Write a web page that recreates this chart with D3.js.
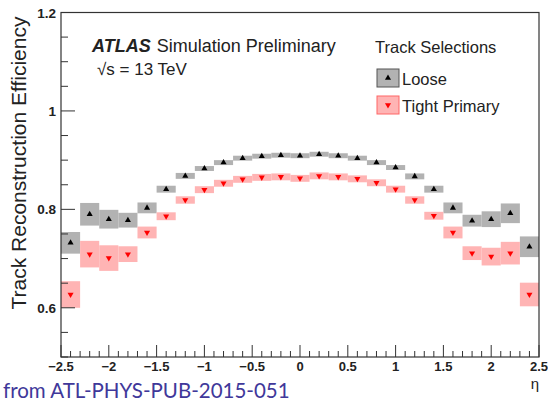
<!DOCTYPE html>
<html>
<head>
<meta charset="utf-8">
<script src="https://cdn.jsdelivr.net/npm/d3@7"></script>
<style>
  body { margin: 0; background: #fff; }
  svg { font-family: "Liberation Sans", Arial, sans-serif; }
</style>
</head>
<body>
<svg id="chart" width="548" height="401"></svg>
<script>
// bin centres in eta (bin width 0.2)
const etaBins = [-2.4, -2.2, -2.0, -1.8, -1.6, -1.4, -1.2, -1.0, -0.8, -0.6, -0.4, -0.2, 0.0,
                 0.2, 0.4, 0.6, 0.8, 1.0, 1.2, 1.4, 1.6, 1.8, 2.0, 2.2, 2.4];
const looseEff = [0.732, 0.790, 0.780, 0.778, 0.803, 0.841, 0.868, 0.883, 0.895, 0.904, 0.908, 0.910, 0.909,
                  0.912, 0.909, 0.904, 0.895, 0.885, 0.867, 0.841, 0.803, 0.777, 0.780, 0.792, 0.724];
const looseErr = [0.022, 0.023, 0.019, 0.015, 0.011, 0.007, 0.006, 0.005, 0.005, 0.005, 0.005, 0.005, 0.005,
                  0.005, 0.005, 0.005, 0.005, 0.005, 0.006, 0.007, 0.011, 0.012, 0.016, 0.020, 0.021];
const tightEff = [0.627, 0.709, 0.701, 0.709, 0.753, 0.786, 0.819, 0.840, 0.853, 0.861, 0.865, 0.866, 0.863,
                  0.868, 0.866, 0.862, 0.854, 0.841, 0.819, 0.787, 0.753, 0.711, 0.704, 0.711, 0.627];
const tightErr = [0.027, 0.027, 0.026, 0.016, 0.012, 0.008, 0.0075, 0.007, 0.007, 0.007, 0.007, 0.007, 0.007,
                  0.007, 0.007, 0.007, 0.007, 0.007, 0.0075, 0.008, 0.012, 0.014, 0.018, 0.023, 0.024];
const binWidth = 0.2;
const xTicks = [-2.5, -2, -1.5, -1, -0.5, 0, 0.5, 1, 1.5, 2, 2.5];
const yTicks = [0.6, 0.8, 1, 1.2];

const svg = d3.select("#chart");
const margin = {top: 12.5, right: 9, bottom: 44, left: 61};
const W = 548, H = 401;
const x = d3.scaleLinear().domain([-2.5, 2.5]).range([margin.left, W - margin.right]);
const y = d3.scaleLinear().domain([0.5, 1.2]).range([H - margin.bottom, margin.top]);

const series = [
  {name: "Loose", eff: looseEff, err: looseErr, fill: "#b2b2b2", mark: "#000", sym: d3.symbolTriangle, rot: 0, legStroke: "#555"},
  {name: "Tight Primary", eff: tightEff, err: tightErr, fill: "#ffb4b4", mark: "#ff0000", sym: d3.symbolTriangle, rot: 180, legStroke: "#ff6666"}
];

// error boxes + markers
series.forEach(s => {
  const g = svg.append("g");
  g.selectAll("rect")
    .data(etaBins.map((e, i) => [e, s.eff[i], s.err[i]]))
    .enter().append("rect")
    .attr("x", d => x(d[0] - binWidth / 2))
    .attr("width", d => x(d[0] + binWidth / 2) - x(d[0] - binWidth / 2))
    .attr("y", d => y(d[1] + d[2]))
    .attr("height", d => y(d[1] - d[2]) - y(d[1] + d[2]))
    .attr("fill", s.fill);
  g.selectAll("path")
    .data(etaBins.map((e, i) => [e, s.eff[i]]))
    .enter().append("path")
    .attr("d", d3.symbol().type(s.sym).size(16))
    .attr("transform", d => "translate(" + x(d[0]) + "," + y(d[1]) + ") rotate(" + s.rot + ")")
    .attr("fill", s.mark);
});

// frame
const axisColor = "#333";
svg.append("rect")
  .attr("x", margin.left).attr("y", margin.top)
  .attr("width", W - margin.right - margin.left)
  .attr("height", H - margin.bottom - margin.top)
  .attr("fill", "none").attr("stroke", axisColor).attr("stroke-width", 1.2);

// x axis ticks (pointing up into the plot)
const xMinor = d3.range(-2.5, 2.5001, 0.1);
svg.append("g").selectAll("line")
  .data(xMinor)
  .enter().append("line")
  .attr("x1", d => x(d)).attr("x2", d => x(d))
  .attr("y1", y(0.5))
  .attr("y2", (d, i) => y(0.5) - (i % 5 === 0 ? 12 : 6))
  .attr("stroke", axisColor);
svg.append("g").selectAll("text")
  .data(xTicks)
  .enter().append("text")
  .attr("x", d => x(d))
  .attr("y", y(0.5) + 14)
  .attr("text-anchor", "middle")
  .attr("font-size", 13)
  .attr("font-weight", "bold")
  .attr("fill", "#222")
  .text(d => d3.format("")(d).replace("-", "\u2212"));

// y axis ticks
const yMinor = d3.range(0.5, 1.2001, 0.05);
svg.append("g").selectAll("line")
  .data(yMinor)
  .enter().append("line")
  .attr("x1", x(-2.5))
  .attr("x2", (d, i) => x(-2.5) + (i % 4 === 2 ? 14 : 7))
  .attr("y1", d => y(d)).attr("y2", d => y(d))
  .attr("stroke", axisColor);
svg.append("g").selectAll("text")
  .data(yTicks)
  .enter().append("text")
  .attr("x", x(-2.5) - 5)
  .attr("y", d => y(d) + 5)
  .attr("text-anchor", "end")
  .attr("font-size", 13.5)
  .attr("font-weight", "bold")
  .attr("fill", "#222")
  .text(d => d3.format("")(d));

// axis titles
svg.append("text")
  .attr("transform", "translate(26,163) rotate(-90)")
  .attr("text-anchor", "middle")
  .attr("font-size", 21)
  .attr("fill", "#222")
  .text("Track Reconstruction Efficiency");
svg.append("text")
  .attr("x", W - 13).attr("y", 389)
  .attr("text-anchor", "middle")
  .attr("font-size", 15)
  .attr("fill", "#222")
  .text("\u03b7");

// ATLAS label
const atl = svg.append("text").attr("x", 92).attr("y", 52).attr("font-size", 18).attr("fill", "#222");
atl.append("tspan").attr("font-weight", "bold").attr("font-style", "italic").text("ATLAS");
atl.append("tspan").attr("dx", 6).text("Simulation Preliminary");
svg.append("text").attr("x", 97).attr("y", 75).attr("font-size", 17).attr("fill", "#222")
  .text("\u221as = 13 TeV");

// legend
svg.append("text").attr("x", 375).attr("y", 53).attr("font-size", 16.5).attr("fill", "#222")
  .text("Track Selections");
series.forEach((s, i) => {
  const ly = 69 + i * 27;
  svg.append("rect").attr("x", 377).attr("y", ly).attr("width", 22).attr("height", 18)
    .attr("fill", s.fill).attr("stroke", s.legStroke);
  svg.append("path")
    .attr("d", d3.symbol().type(s.sym).size(16))
    .attr("transform", "translate(388," + (ly + 9) + ") rotate(" + s.rot + ")")
    .attr("fill", s.mark);
  svg.append("text").attr("x", 402).attr("y", ly + 15.5).attr("font-size", 16.5).attr("fill", "#222")
    .text(s.name);
});

// source note
svg.append("text")
  .attr("x", 3).attr("y", 398)
  .style("font-family", "Lato, 'Open Sans', sans-serif")
  .attr("font-size", 20.5)
  .attr("fill", "#40389a")
  .text("from ATL-PHYS-PUB-2015-051");
</script>
</body>
</html>
